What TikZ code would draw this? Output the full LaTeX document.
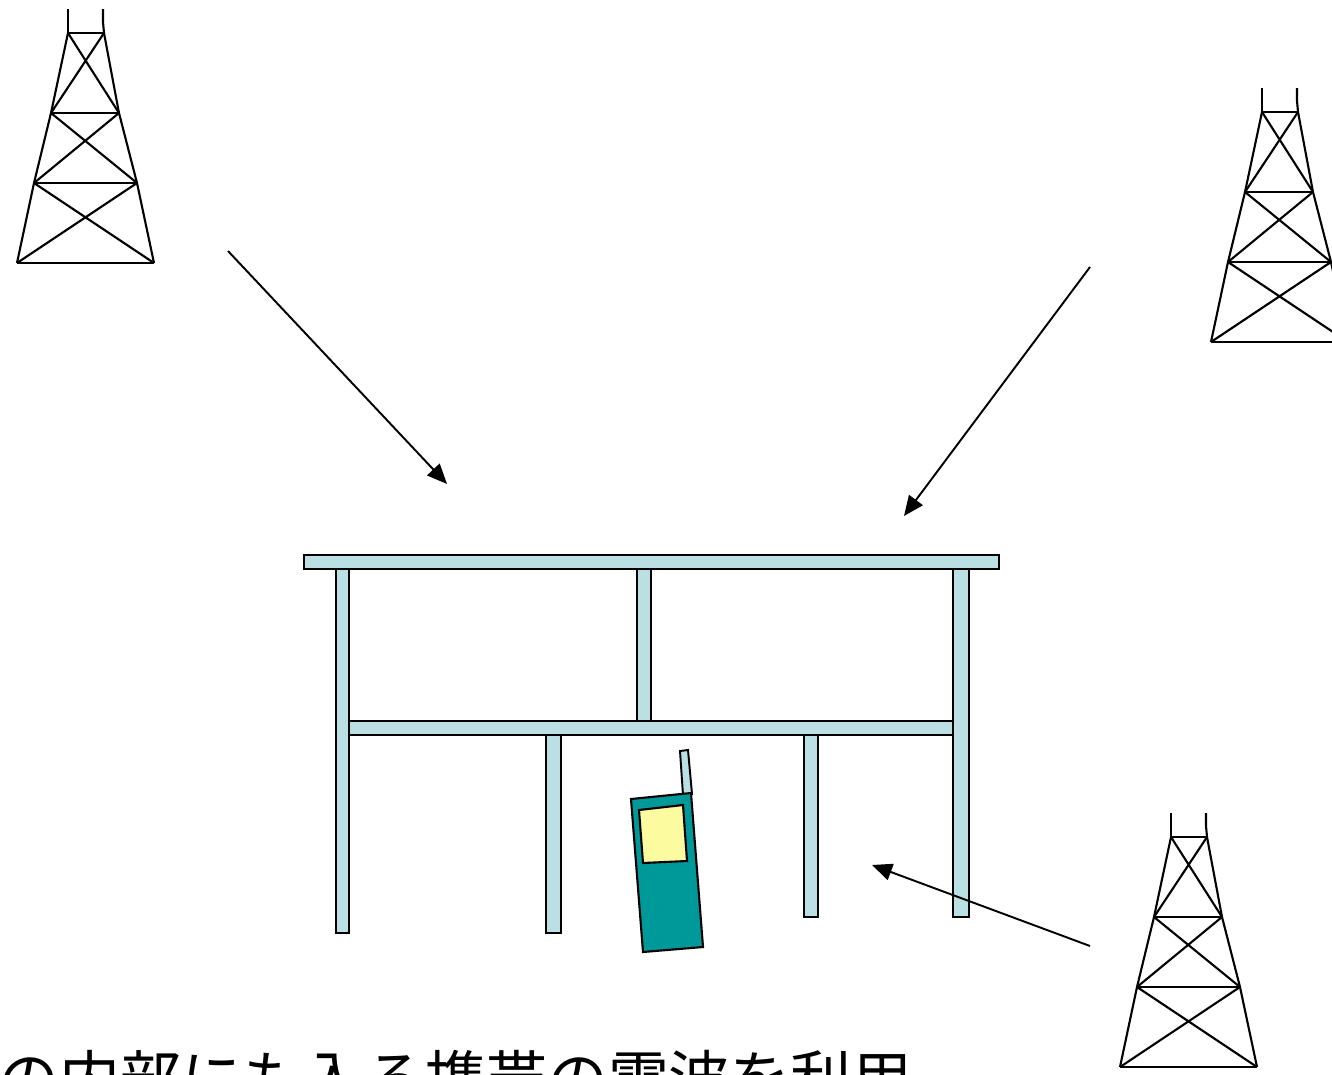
\documentclass[tikz,border=0pt]{standalone}
\usepackage{fontspec}
\newfontfamily\jpfont{Noto Sans CJK JP}
\usepackage{xcolor}
\usetikzlibrary{arrows.meta,positioning}

\definecolor{framefill}{RGB}{187,224,227}
\definecolor{phonebody}{RGB}{0,153,153}
\definecolor{phonescreen}{RGB}{253,251,160}

\begin{document}
\begin{tikzpicture}[
    x=0.02cm, y=-0.02cm,
    tower/.style={draw=black, line width=1.2pt, line join=miter},
    beam/.style={draw=black, fill=framefill, line width=1pt},
    wave/.style={-{Triangle[length=0.4cm,width=0.34cm]}, line width=1.1pt},
    caption/.style={anchor=base west, inner sep=0pt, font=\jpfont\fontsize{34.7pt}{40pt}\selectfont}
]
\useasboundingbox (0,0) rectangle (1332,1075);

% Towers (same lattice, shifted)
\foreach \dx/\dy in {0/0, 1194/79, 1103/804} {
  \begin{scope}[shift={(\dx,\dy)}]
    % antenna
    \draw[tower] (68,9) -- (68,33);
    \draw[tower] (103,9) -- (103,22) -- (104,33);
    % legs and cross bars
    \draw[tower] (68,33) -- (51,113) -- (34,183) -- (17,263);
    \draw[tower] (104,33) -- (119,113) -- (137,183) -- (154,263);
    \draw[tower] (68,33) -- (104,33);
    \draw[tower] (51,113) -- (119,113);
    \draw[tower] (34,183) -- (137,183);
    \draw[tower] (17,263) -- (154,263);
    % bracing
    \draw[tower] (68,33) -- (119,113) (104,33) -- (51,113);
    \draw[tower] (51,113) -- (137,183) (119,113) -- (34,183);
    \draw[tower] (34,183) -- (154,263) (137,183) -- (17,263);
  \end{scope}
}

% Building frame
\draw[beam] (336,569) rectangle (349,933);
\draw[beam] (953,569) rectangle (969,917);
\draw[beam] (637,569) rectangle (651,721);
\draw[beam] (546,735) rectangle (561,933);
\draw[beam] (804,735) rectangle (818,917);
\draw[beam] (349,721) rectangle (953,735);
\draw[beam] (304,555) rectangle (999,569);

% Mobile phone
\draw[beam, line width=1.1pt] (680,751) -- (688,750) -- (692,794) -- (683,795) -- cycle;
\draw[draw=black, fill=phonebody, line width=1.2pt] (631,799) -- (691,793) -- (703,947) -- (643,952) -- cycle;
\draw[draw=black, fill=phonescreen, line width=1.2pt] (639,810) -- (683,805) -- (687,861) -- (643,863) -- cycle;

% Radio waves
\coordinate (w1s) at (228,251);
\coordinate (w1e) at (447,484);
\coordinate (w2s) at (1090,267);
\coordinate (w2e) at (904,516);
\coordinate (w3s) at (1090,946);
\coordinate (w3e) at (872,865);
\draw[wave] (w1s) -- (w1e);
\draw[wave] (w2s) -- (w2e);
\draw[wave] (w3s) -- (w3e);

\node[caption] (note) at (-2,1101) {の内部にも入る携帯の電波を利用};

\end{tikzpicture}
\end{document}
